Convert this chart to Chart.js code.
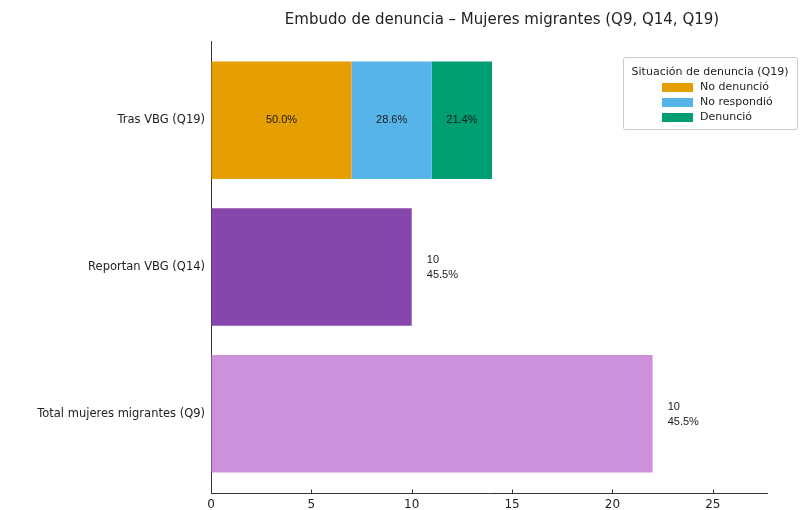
<!DOCTYPE html>
<html>
<head>
<meta charset="utf-8">
<script src="https://cdn.jsdelivr.net/npm/chart.js@4"></script>
<style>
  html, body { margin: 0; padding: 0; background: #fff; }
  #wrap { width: 812px; height: 510px; }
</style>
</head>
<body>
<div id="wrap"><canvas id="funnel" width="812" height="510"></canvas></div>
<script>
// Data
const categories = ['Tras VBG (Q19)', 'Reportan VBG (Q14)', 'Total mujeres migrantes (Q9)'];
const statusLabels = ['No denunció', 'No respondió', 'Denunció'];
const statusCounts = [7, 4, 3];
const statusColors = ['#E69F00', '#56B4E9', '#009E73'];
const reportanCount = 10;
const totalCount = 22;
const sideLabels = [null, ['10', '45.5%'], ['10', '45.5%']];
const xTicks = [0, 5, 10, 15, 20, 25];

const TITLE = 'Embudo de denuncia – Mujeres migrantes (Q9, Q14, Q19)';
const LEGEND_TITLE = 'Situación de denuncia (Q19)';

const statusTotal = statusCounts.reduce((a, b) => a + b, 0);

const datasets = statusLabels.map((lab, i) => ({
    label: lab,
    data: [{ y: 0, x: statusCounts[i] }],
    backgroundColor: statusColors[i],
    inLegend: true,
    segment: true
}));
datasets.push({
    label: categories[1],
    data: [{ y: 1, x: reportanCount }],
    backgroundColor: '#8646AB'
});
datasets.push({
    label: categories[2],
    data: [{ y: 2, x: totalCount }],
    backgroundColor: '#CD90DA'
});

// Labels inside the stacked segments and next to the single bars
const labelPlugin = {
    id: 'barLabels',
    afterDatasetsDraw(chart) {
        const ctx = chart.ctx;
        const xs = chart.scales.x, ys = chart.scales.y;
        ctx.save();
        ctx.fillStyle = '#1a1a1a';
        ctx.font = '11px "Liberation Sans", Arial, sans-serif';
        chart.data.datasets.forEach((ds, di) => {
            if (!ds.segment) return;
            const bar = chart.getDatasetMeta(di).data[0];
            const pct = (ds.data[0].x / statusTotal * 100).toFixed(1) + '%';
            ctx.textAlign = 'center';
            ctx.textBaseline = 'middle';
            ctx.fillText(pct, (bar.base + bar.x) / 2, bar.y);
        });
        const ends = [null, reportanCount, totalCount];
        sideLabels.forEach((lines, i) => {
            if (!lines) return;
            const px = xs.getPixelForValue(ends[i] + 0.75);
            const py = ys.getPixelForValue(i);
            ctx.textAlign = 'left';
            ctx.textBaseline = 'middle';
            ctx.fillText(lines[0], px, py - 7);
            ctx.fillText(lines[1], px, py + 8);
        });

        // inward tick marks on the x axis, like the original
        ctx.strokeStyle = '#333';
        ctx.lineWidth = 1;
        const yb = chart.chartArea.bottom;
        xs.ticks.forEach(t => {
            const x = Math.round(xs.getPixelForValue(t.value)) + 0.5;
            ctx.beginPath();
            ctx.moveTo(x, yb);
            ctx.lineTo(x, yb - 3.5);
            ctx.stroke();
        });
        ctx.restore();
    }
};

// Title centred over the figure and legend box inside the plot
const decorPlugin = {
    id: 'decor',
    afterDraw(chart) {
        const ctx = chart.ctx;
        ctx.save();
        ctx.fillStyle = '#222';
        ctx.font = '15px "DejaVu Sans", sans-serif';
        ctx.textAlign = 'center';
        ctx.textBaseline = 'middle';
        ctx.fillText(TITLE, 502, 20);

        const bx = 623, by = 57, bw = 174, bh = 72;
        ctx.fillStyle = 'rgba(255,255,255,0.9)';
        ctx.strokeStyle = '#cccccc';
        ctx.lineWidth = 1;
        ctx.beginPath();
        ctx.roundRect(bx + 0.5, by + 0.5, bw, bh, 2);
        ctx.fill();
        ctx.stroke();

        ctx.fillStyle = '#222';
        ctx.font = '11px "DejaVu Sans", sans-serif';
        ctx.textAlign = 'center';
        ctx.fillText(LEGEND_TITLE, bx + bw / 2, by + 15);
        ctx.textAlign = 'left';
        let row = 0;
        chart.data.datasets.forEach(ds => {
            if (!ds.inLegend) return;
            const cy = by + 30 + row * 15;
            ctx.fillStyle = ds.backgroundColor;
            ctx.fillRect(662, cy - 4, 31, 9);
            ctx.fillStyle = '#222';
            ctx.fillText(ds.label, 700, cy);
            row++;
        });
        ctx.restore();
    }
};

new Chart(document.getElementById('funnel'), {
    type: 'bar',
    data: { datasets },
    options: {
        indexAxis: 'y',
        responsive: false,
        animation: false,
        barPercentage: 0.8,
        categoryPercentage: 1,
        layout: { padding: { top: 41, right: 45, left: 0, bottom: 0 } },
        plugins: {
            legend: { display: false },
            title: { display: false },
            tooltip: { enabled: false }
        },
        scales: {
            x: {
                type: 'linear',
                stacked: true,
                min: 0,
                max: 27.7,
                afterBuildTicks: s => { s.ticks = xTicks.map(v => ({ value: v })); },
                afterFit: s => { s.height = 17; },
                grid: { drawOnChartArea: false, drawTicks: false },
                border: { display: true, color: '#333', width: 1 },
                ticks: {
                    padding: 5,
                    color: '#222',
                    font: { family: '"DejaVu Sans", sans-serif', size: 12 }
                }
            },
            y: {
                type: 'linear',
                stacked: true,
                reverse: true,
                offset: false,
                min: -0.54,
                max: 2.54,
                afterBuildTicks: s => { s.ticks = categories.map((c, i) => ({ value: i })); },
                afterFit: s => { s.width = 211; },
                grid: { offset: false, drawOnChartArea: false, drawTicks: false },
                border: { display: true, color: '#333', width: 1 },
                ticks: {
                    padding: 6,
                    color: '#222',
                    font: { family: '"DejaVu Sans", sans-serif', size: 11.5 },
                    callback: v => categories[v]
                }
            }
        }
    },
    plugins: [labelPlugin, decorPlugin]
});
</script>
</body>
</html>
